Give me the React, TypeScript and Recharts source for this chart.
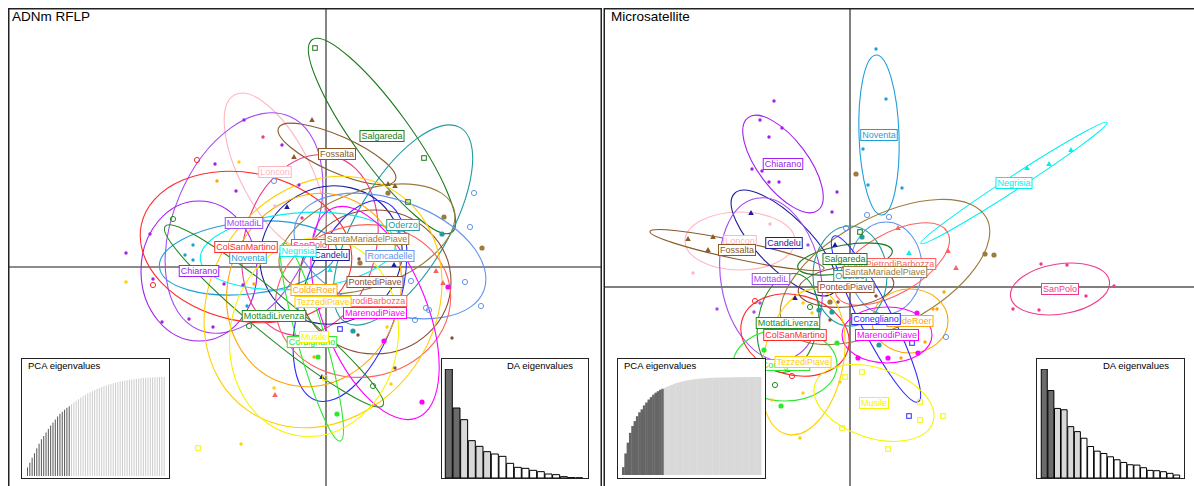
import React from 'react';
import { ScatterChart, Scatter, XAxis, YAxis, ReferenceLine, BarChart, Bar, Cell } from 'recharts';

const FONT = '"Liberation Sans", Arial, Helvetica, sans-serif';

type Mark = 'dot' | 'disc' | 'ring' | 'tri' | 'sq';
type Centroid = [string, number, number];
type Axes = [string, number, number, number]; // pop, semi-axis a, semi-axis b, tilt (deg)
type Point = [string, number, number];

// ---- ADNm RFLP: discriminant scores (LD1, LD2) ----
const rflpCentroids: Centroid[] = [
  ['Loncon', -5.1, 9.5],
  ['Salgareda', 5.6, 13.1],
  ['Fossalta', 1.1, 11.3],
  ['MottadiL', -8.2, 4.4],
  ['Oderzo', 7.7, 4.2],
  ['Chiarano', -12.7, -0.4],
  ['Noventa', -7.8, 0.9],
  ['ColSanMartino', -8.0, 2.0],
  ['SanPolo', -1.6, 2.2],
  ['Candelu', 0.5, 1.2],
  ['Negrisia', -2.8, 1.6],
  ['SantaMariadelPiave', 4.1, 2.8],
  ['Roncadelle', 6.4, 1.1],
  ['PontediPiave', 4.9, -1.5],
  ['Conegliano', 2.4, -3.4],
  ['SanPietrodiBarbozza', 3.7, -3.4],
  ['ColdeRoer', -1.2, -2.3],
  ['TezzediPiave', -0.3, -3.5],
  ['MarenodiPiave', 4.9, -4.6],
  ['MottadiLivenza', -5.2, -4.9],
  ['Cordignano', -1.4, -7.5],
  ['Musile', -1.2, -7.0],
];

const rflpEllipses: Axes[] = [
  ['Loncon', 8.7, 3.5, -62.5],
  ['Salgareda', 11.9, 2.8, -54],
  ['Fossalta', 6.4, 1.8, -24],
  ['MottadiL', 11.6, 7.0, 67],
  ['Oderzo', 11.3, 4.6, 59.5],
  ['Chiarano', 7.0, 5.8, 90],
  ['Noventa', 8.9, 3.6, 6],
  ['ColSanMartino', 10.7, 7.4, -12],
  ['SanPolo', 9.2, 6.6, 75],
  ['Candelu', 7.2, 6.8, 30],
  ['Negrisia', 9.8, 3.8, 5],
  ['SantaMariadelPiave', 9.2, 4.8, 20],
  ['Roncadelle', 10.0, 5.6, -20],
  ['PontediPiave', 7.6, 7.2, 0],
  ['Conegliano', 10.5, 4.8, 71],
  ['SanPietrodiBarbozza', 8.8, 7.6, 10],
  ['ColdeRoer', 9.8, 8.6, 70],
  ['TezzediPiave', 13.2, 11.2, 55],
  ['MarenodiPiave', 11.3, 5.2, -68],
  ['MottadiLivenza', 14.1, 2.0, -39.5],
  ['Cordignano', 10.3, 1.4, -74],
  ['Musile', 10.0, 8.4, 80],
];

const rflpPoints: Point[] = [
  ['Salgareda', -1.1, 21.9], ['Salgareda', 8.2, 6.5], ['Salgareda', 9.8, 10.9],
  ['Oderzo', 11.6, 3.3], ['Oderzo', 2.7, -6.4],
  ['Roncadelle', 14.8, 7.4], ['Roncadelle', 14.4, 4.0], ['Roncadelle', 13.9, -1.5], ['Roncadelle', 8.5, -1.4],
  ['Roncadelle', 10.0, -4.1], ['Roncadelle', 10.3, -4.3], ['Roncadelle', 8.9, -5.3], ['Roncadelle', 15.5, -3.9],
  ['Roncadelle', 7.3, 3.7], ['Roncadelle', -5.2, 8.6],
  ['Fossalta', -1.4, 14.7], ['Fossalta', 6.2, 8.3], ['Fossalta', 6.9, 8.1], ['Fossalta', -3.2, 11.0],
  ['Loncon', -5.1, 6.1],
  ['SanPolo', -6.3, 13.0], ['SanPolo', -2.4, 4.9],
  ['Chiarano', -8.2, 14.7], ['Chiarano', -4.4, 12.2], ['Chiarano', -11.1, 10.3], ['Chiarano', -9.0, 7.6],
  ['Chiarano', -17.6, 3.3], ['Chiarano', -20.0, 1.4], ['Chiarano', -17.3, -1.2], ['Chiarano', -16.4, -5.5],
  ['Chiarano', -13.7, -5.2], ['Chiarano', -11.3, -6.0], ['Chiarano', -8.3, -1.8], ['Chiarano', -10.2, -1.7],
  ['Chiarano', -2.7, 8.2],
  ['ColSanMartino', -12.9, 10.7], ['ColSanMartino', -17.3, -1.8],
  ['Noventa', -13.3, 2.2], ['Noventa', -14.1, 1.2], ['Noventa', -13.3, 0.7], ['Noventa', -7.9, -3.9],
  ['Negrisia', 0.4, -0.3],
  ['Candelu', -3.9, 6.0], ['Candelu', 6.8, 0.2], ['Candelu', -0.4, -11.0],
  ['ColdeRoer', -10.9, 8.6], ['ColdeRoer', -7.2, -1.7], ['ColdeRoer', -1.2, -9.0],
  ['TezzediPiave', -8.7, 10.5], ['TezzediPiave', -20.0, -1.5], ['TezzediPiave', -5.2, -12.1],
  ['TezzediPiave', -8.5, -17.7], ['TezzediPiave', 6.1, -6.0], ['TezzediPiave', 6.5, -11.7],
  ['Musile', -12.8, -18.1], ['Musile', -0.1, -11.1],
  ['SanPietrodiBarbozza', -5.1, -12.8], ['SanPietrodiBarbozza', 11.0, -0.4], ['SanPietrodiBarbozza', 11.7, -1.6],
  ['MarenodiPiave', 5.8, -7.4], ['MarenodiPiave', 9.6, -13.5], ['MarenodiPiave', 12.2, -2.0],
  ['PontediPiave', 3.3, 0.8], ['PontediPiave', 5.8, -1.9], ['PontediPiave', 12.6, -7.1],
  ['PontediPiave', 6.9, -10.1], ['PontediPiave', 3.2, -6.8],
  ['MottadiLivenza', -15.3, 4.8], ['MottadiLivenza', -7.7, -5.9], ['MottadiLivenza', 4.7, -11.9],
  ['Cordignano', -0.8, -9.0], ['Cordignano', 1.1, -14.7],
  ['SantaMariadelPiave', 3.4, 0.4], ['SantaMariadelPiave', 6.2, 7.4], ['SantaMariadelPiave', 11.8, 5.0],
  ['SantaMariadelPiave', 15.6, 1.9],
  ['Conegliano', 1.4, -6.2],
];

// ---- Microsatellite: discriminant scores (LD1, LD2) ----
const msatCentroids: Centroid[] = [
  ['Noventa', 2.9, 15.2],
  ['Chiarano', -6.7, 12.3],
  ['Negrisia', 16.4, 10.4],
  ['Loncon', -11.0, 4.6],
  ['Fossalta', -11.3, 3.7],
  ['Candelu', -6.6, 4.4],
  ['SanPolo', 21.0, -0.2],
  ['MottadiL', -7.9, 0.8],
  ['Roncadelle', 3.6, 1.9],
  ['Oderzo', 0.0, 1.1],
  ['SanPietrodiBarbozza', 4.2, 2.3],
  ['Salgareda', -0.5, 2.8],
  ['SantaMariadelPiave', 3.5, 1.5],
  ['PontediPiave', -0.4, 0.0],
  ['ColdeRoer', 6.0, -3.4],
  ['Conegliano', 2.6, -3.2],
  ['MarenodiPiave', 3.7, -4.8],
  ['MottadiLivenza', -6.2, -3.6],
  ['ColSanMartino', -5.5, -4.8],
  ['Cordignano', -6.5, -7.8],
  ['TezzediPiave', -4.7, -7.5],
  ['Musile', 2.4, -11.6],
];

const msatEllipses: Axes[] = [
  ['Noventa', 8.0, 2.0, 92],
  ['Chiarano', 5.8, 2.5, -53],
  ['Negrisia', 11.1, 0.7, 33],
  ['Loncon', 5.5, 2.9, 0],
  ['Fossalta', 8.9, 0.9, -12],
  ['Candelu', 7.0, 2.6, -45],
  ['SanPolo', 5.0, 2.5, 9],
  ['MottadiL', 8.2, 5.0, 100],
  ['Roncadelle', 4.6, 3.6, 90],
  ['Oderzo', 5.0, 3.7, 90],
  ['SanPietrodiBarbozza', 6.4, 3.0, 30],
  ['Salgareda', 4.8, 1.4, 10],
  ['SantaMariadelPiave', 11.5, 5.5, 28],
  ['PontediPiave', 4.8, 2.0, 5],
  ['ColdeRoer', 3.8, 3.2, 0],
  ['Conegliano', 9.3, 1.6, -63],
  ['MarenodiPiave', 4.5, 2.8, 0],
  ['MottadiLivenza', 5.0, 3.0, 80],
  ['ColSanMartino', 5.5, 4.0, -15],
  ['Cordignano', 5.2, 3.6, 0],
  ['TezzediPiave', 7.4, 4.0, 78],
  ['Musile', 6.2, 3.5, -18],
];

const msatPoints: Point[] = [
  ['Noventa', 2.6, 23.8], ['Noventa', 3.6, 18.8], ['Noventa', 1.3, 13.8], ['Noventa', 1.8, 10.2], ['Noventa', 5.2, 9.9],
  ['Chiarano', -7.6, 18.6], ['Chiarano', -9.0, 16.7], ['Chiarano', -6.8, 15.9], ['Chiarano', -8.1, 15.0],
  ['Chiarano', -9.8, 11.8], ['Chiarano', -8.8, 11.6], ['Chiarano', -8.1, 10.5], ['Chiarano', -7.1, 10.5],
  ['Chiarano', -1.3, 9.5], ['Chiarano', -1.8, 7.5],
  ['Negrisia', 17.7, 11.9], ['Negrisia', 19.9, 12.3], ['Negrisia', 22.1, 13.7], ['Negrisia', 5.9, 3.4],
  ['SanPolo', 19.1, 2.3], ['SanPolo', 21.7, 2.2], ['SanPolo', 26.4, 0.1], ['SanPolo', 23.6, -0.9],
  ['SanPolo', 16.3, -2.2], ['SanPolo', 18.9, -2.3],
  ['Fossalta', -16.2, 4.8], ['Fossalta', -13.7, 5.0], ['Fossalta', -14.2, 3.7],
  ['Loncon', -8.0, 6.3], ['Loncon', -15.7, 1.4],
  ['Candelu', -9.9, 7.4], ['Candelu', -1.5, 4.2], ['Candelu', -5.5, -1.1],
  ['Musile', -0.5, -9.0], ['Musile', 1.2, -8.5], ['Musile', -0.8, -14.1], ['Musile', 3.8, -16.2],
  ['Musile', 7.0, -11.5], ['Musile', 7.0, -13.3], ['Musile', 9.3, -12.9],
  ['Conegliano', 6.2, -5.6], ['Conegliano', 5.9, -12.9], ['Conegliano', 4.7, -3.1],
  ['Roncadelle', 1.7, 7.2], ['Roncadelle', 3.9, 7.0], ['Roncadelle', -0.4, 5.9], ['Roncadelle', 9.6, -5.0],
  ['Roncadelle', 2.3, 2.5],
  ['ColdeRoer', 9.4, -0.5], ['ColdeRoer', 8.3, -2.2], ['ColdeRoer', 8.7, -2.2], ['ColdeRoer', 7.5, -5.5],
  ['ColdeRoer', 5.1, -7.1],
  ['MarenodiPiave', 6.7, -2.6], ['MarenodiPiave', 6.8, -6.6], ['MarenodiPiave', 0.8, -7.1], ['MarenodiPiave', 3.8, -7.1],
  ['Oderzo', 1.2, 5.0], ['Oderzo', -1.8, -2.5], ['Oderzo', -3.1, -2.3], ['Oderzo', 2.9, -5.8],
  ['SantaMariadelPiave', 0.6, 11.3], ['SantaMariadelPiave', 13.5, 3.3], ['SantaMariadelPiave', 14.4, 3.2],
  ['SantaMariadelPiave', -2.0, -1.5], ['SantaMariadelPiave', 1.6, -3.5],
  ['SanPietrodiBarbozza', 9.8, 3.6], ['SanPietrodiBarbozza', 10.6, 1.9], ['SanPietrodiBarbozza', 4.8, 5.9],
  ['ColSanMartino', -9.5, -1.4], ['ColSanMartino', -5.8, -8.9],
  ['MottadiLivenza', -7.5, -9.8], ['MottadiLivenza', -4.0, -2.0],
  ['Cordignano', -10.9, -7.6], ['Cordignano', -6.9, -11.9], ['Cordignano', -1.3, -5.6], ['Cordignano', -8.6, -6.3],
  ['TezzediPiave', -4.7, -1.6], ['TezzediPiave', -4.7, -10.6], ['TezzediPiave', -5.0, -15.1],
  ['TezzediPiave', -7.8, -11.3], ['TezzediPiave', -1.0, -9.5], ['TezzediPiave', -3.8, -2.6],
  ['PontediPiave', -1.2, -1.5], ['PontediPiave', -2.0, -3.3], ['PontediPiave', 2.6, -0.9],
  ['MottadiL', -9.0, -1.6], ['MottadiL', -9.6, -2.5], ['MottadiL', -13.3, -2.2], ['MottadiL', -4.2, 4.2],
  ['Salgareda', 1.0, 5.5],
];

// cumulative variance (%) of the retained PCA axes
const rflpPcaCum = [
  8.5, 13.5, 18.5, 23, 28, 32.5, 37, 40.5, 44, 47.5, 51, 54, 57, 60, 63, 65, 67, 69, 70.5, 72.5,
  74.3, 76, 77.6, 79.2, 80.7, 82, 83.3, 84.5, 85.7, 86.8, 87.9, 88.9, 89.8, 90.7, 91.5, 92.3, 93, 93.7, 94.3, 94.9,
  95.4, 95.9, 96.4, 96.8, 97.2, 97.5, 97.8, 98.1, 98.4, 98.7, 98.9, 99.1, 99.3, 99.5, 99.6, 99.7, 99.8, 99.9, 100, 100,
];
const rflpPcaKept = 19;

const msatPcaCum = [
  8, 22, 33, 43, 50, 55, 60, 64, 67, 71, 74, 77, 79.5, 82, 84, 85.5, 87, 88, 89, 90,
  91, 92, 93, 93.8, 94.5, 95.1, 95.7, 96.2, 96.7, 97.1, 97.4, 97.7, 98, 98.2, 98.4, 98.6, 98.8, 98.95, 99.1, 99.2,
  99.3, 99.35, 99.4, 99.45, 99.5, 99.55, 99.6, 99.65, 99.7, 99.75, 99.8, 99.85, 99.88, 99.9, 99.92, 99.94, 99.96, 99.98, 99.99, 100,
];
const msatPcaKept = 18;

// discriminant eigenvalues
const rflpDaEig = [32.7, 21.0, 17.5, 11.2, 9.5, 7.9, 7.2, 6.5, 4.4, 3.2, 2.9, 2.3, 1.9, 1.2, 1.0, 0.4, 0.1, 0.05];
const msatDaEig = [32.9, 26.4, 21.0, 20.6, 15.5, 14.0, 12.0, 9.5, 8.1, 7.4, 6.4, 5.5, 4.7, 4.0, 3.9, 3.1, 2.3, 2.2, 1.9, 1.4, 0.9];
const daShown = 2;
const daKept = 6;

const popColour: Record<string, string> = {
  Salgareda: '#1b7a1b',
  Fossalta: '#8b5a2b',
  Loncon: '#ffb6c1',
  MottadiL: '#a24cf5',
  Oderzo: '#1f9e9e',
  SantaMariadelPiave: '#9c7b3c',
  ColSanMartino: '#ff2a2a',
  SanPolo: '#ee3a8c',
  Negrisia: '#00f0f0',
  Candelu: '#1c1c9c',
  Noventa: '#1e9fda',
  Roncadelle: '#6495ed',
  Chiarano: '#a020f0',
  PontediPiave: '#8b4c39',
  ColdeRoer: '#ffa500',
  TezzediPiave: '#ffd000',
  SanPietrodiBarbozza: '#ff6060',
  MarenodiPiave: '#ff00ff',
  MottadiLivenza: '#228b22',
  Musile: '#f5f500',
  Cordignano: '#2ee82e',
  Conegliano: '#2a2aff',
};

const popMark: Record<string, Mark> = {
  Noventa: 'dot', Chiarano: 'dot', SanPolo: 'dot', ColdeRoer: 'dot', TezzediPiave: 'dot',
  PontediPiave: 'dot', Loncon: 'dot', MottadiL: 'dot',
  Negrisia: 'tri', Fossalta: 'tri', Candelu: 'tri', SanPietrodiBarbozza: 'tri',
  Musile: 'sq', Conegliano: 'sq', Salgareda: 'sq',
  Roncadelle: 'ring', ColSanMartino: 'ring', MottadiLivenza: 'ring',
  MarenodiPiave: 'disc', Oderzo: 'disc', SantaMariadelPiave: 'disc', Cordignano: 'disc',
};

let measureCtx: CanvasRenderingContext2D | null = null;
function textWidth(s: string, size: number) {
  if (!measureCtx) measureCtx = document.createElement('canvas').getContext('2d');
  if (!measureCtx) return s.length * size * 0.52;
  measureCtx.font = `${size}px "Liberation Sans", Arial, sans-serif`;
  return measureCtx.measureText(s).width;
}

function drawMark(p: any) {
  const { cx, cy, payload } = p;
  const c = popColour[payload.pop];
  switch (popMark[payload.pop]) {
    case 'disc':
      return <circle cx={cx} cy={cy} r={2.6} fill={c} />;
    case 'ring':
      return <circle cx={cx} cy={cy} r={2.6} fill="none" stroke={c} strokeWidth={1} />;
    case 'tri':
      return <polygon points={`${cx},${cy - 3} ${cx + 2.8},${cy + 2} ${cx - 2.8},${cy + 2}`} fill={c} />;
    case 'sq':
      return <rect x={cx - 2.3} y={cy - 2.3} width={4.6} height={4.6} fill="none" stroke={c} strokeWidth={1} />;
    default:
      return <circle cx={cx} cy={cy} r={1.7} fill={c} />;
  }
}

function drawLabel(p: any) {
  const { cx, cy, payload } = p;
  const c = popColour[payload.pop];
  const w = textWidth(payload.pop, 9) + 3;
  return (
    <g>
      <rect x={cx - w / 2} y={cy - 5.5} width={w} height={11} fill="#fff" stroke={c} strokeWidth={1} />
      <text x={cx} y={cy + 3.3} textAnchor="middle" fontSize={9} fontFamily={FONT} fill={c}>
        {payload.pop}
      </text>
    </g>
  );
}

interface PanelProps {
  left: number;
  top: number;
  width: number;
  height: number;
  xDomain: [number, number];
  yDomain: [number, number];
  axisColour: string;
  axisWidth: number;
  centroids: Centroid[];
  ellipses: Axes[];
  points: Point[];
}

function DapcPanel({ left, top, width, height, xDomain, yDomain, axisColour, axisWidth, centroids, ellipses, points }: PanelProps) {
  const kx = width / (xDomain[1] - xDomain[0]);
  const ky = height / (yDomain[1] - yDomain[0]);
  const centre: Record<string, [number, number]> = {};
  centroids.forEach(([pop, x, y]) => { centre[pop] = [x, y]; });

  const ellipseRows = ellipses.map(([pop, a, b, tilt]) => ({ pop, x: centre[pop][0], y: centre[pop][1], a, b, tilt }));
  const pointRows = points.map(([pop, x, y]) => ({ pop, x, y }));
  const labelRows = centroids.map(([pop, x, y]) => ({ pop, x, y }));

  const drawEllipse = (p: any) => {
    const { cx, cy, payload } = p;
    return (
      <ellipse
        cx={0}
        cy={0}
        rx={payload.a}
        ry={payload.b}
        transform={`translate(${cx},${cy}) scale(${kx},${-ky}) rotate(${payload.tilt})`}
        fill="none"
        stroke={popColour[payload.pop]}
        strokeWidth={1.1}
        vectorEffect="non-scaling-stroke"
      />
    );
  };

  return (
    <div style={{ position: 'absolute', left, top, width, height }}>
      <ScatterChart width={width} height={height} margin={{ top: 0, right: 0, bottom: 0, left: 0 }}>
        <XAxis type="number" dataKey="x" domain={xDomain} allowDataOverflow hide />
        <YAxis type="number" dataKey="y" domain={yDomain} allowDataOverflow hide />
        <ReferenceLine x={0} stroke={axisColour} strokeWidth={axisWidth} />
        <ReferenceLine y={0} stroke={axisColour} strokeWidth={axisWidth} />
        <Scatter data={ellipseRows} shape={drawEllipse} isAnimationActive={false} />
        <Scatter data={pointRows} shape={drawMark} isAnimationActive={false} />
        <Scatter data={labelRows} shape={drawLabel} isAnimationActive={false} />
      </ScatterChart>
    </div>
  );
}

interface InsetProps {
  left: number;
  top: number;
  width: number;
  height: number;
  margin: { top: number; right: number; bottom: number; left: number };
  values: number[];
  fills: string[];
  max: number;
  gap: number | string;
  barSize?: number;
  outline?: string;
  solid?: boolean; // bars butt against each other with no gap
}

function EigenInset({ left, top, width, height, margin, values, fills, max, gap, barSize, outline, solid }: InsetProps) {
  const data = values.map((v, i) => ({ k: i + 1, v }));
  const step = (width - margin.left - margin.right) / values.length;
  // recharts floors bar widths to whole pixels, so solid bars are widened to the full step
  const solidBar = (p: any) => (
    <rect x={p.x} y={p.y} width={step + 0.4} height={p.height} fill={fills[p.index]} />
  );
  return (
    <div style={{ position: 'absolute', left, top, width, height, background: '#fff' }}>
      <BarChart width={width} height={height} data={data} margin={margin} barCategoryGap={gap} barGap={0} barSize={barSize}>
        <XAxis dataKey="k" hide />
        <YAxis type="number" domain={[0, max]} allowDataOverflow hide />
        {solid ? (
          <Bar dataKey="v" isAnimationActive={false} shape={solidBar} />
        ) : (
          <Bar dataKey="v" isAnimationActive={false} stroke={outline ?? 'none'} strokeWidth={outline ? 1 : 0}>
            {data.map((d, i) => <Cell key={d.k} fill={fills[i]} />)}
          </Bar>
        )}
      </BarChart>
    </div>
  );
}

const pcaFills = (n: number, kept: number, dark: string, light: string) =>
  Array.from({ length: n }, (_, i) => (i < kept ? dark : light));
const daFills = (n: number) =>
  Array.from({ length: n }, (_, i) => (i < daShown ? '#6b6b6b' : i < daKept ? '#d9d9d9' : '#ffffff'));

export default function App() {
  return (
    <div style={{ position: 'fixed', left: 0, top: 0, width: 1194, height: 486, overflow: 'hidden', background: '#fff', fontFamily: FONT }}>
      <DapcPanel
        left={9}
        top={9}
        width={592}
        height={500}
        xDomain={[-31.7, 27.5]}
        yDomain={[-24.2, 25.8]}
        axisColour="#666"
        axisWidth={1.6}
        centroids={rflpCentroids}
        ellipses={rflpEllipses}
        points={rflpPoints}
      />
      <DapcPanel
        left={604}
        top={9}
        width={596}
        height={500}
        xDomain={[-24.6, 35.0]}
        yDomain={[-22.2, 27.8]}
        axisColour="#000"
        axisWidth={1}
        centroids={msatCentroids}
        ellipses={msatEllipses}
        points={msatPoints}
      />

      <EigenInset
        left={21} top={358} width={149} height={121}
        margin={{ top: 19, right: 5, bottom: 3, left: 5 }}
        values={rflpPcaCum}
        fills={pcaFills(rflpPcaCum.length, rflpPcaKept, '#555555', '#cccccc')}
        max={100} gap="0%" barSize={1}
      />
      <EigenInset
        left={441} top={358} width={148} height={121}
        margin={{ top: 11, right: 6, bottom: 1, left: 4 }}
        values={rflpDaEig}
        fills={daFills(rflpDaEig.length)}
        max={Math.max(...rflpDaEig)} gap="4%" outline="#000"
      />
      <EigenInset
        left={617} top={358} width={149} height={121}
        margin={{ top: 19, right: 5, bottom: 4, left: 5 }}
        values={msatPcaCum}
        fills={pcaFills(msatPcaCum.length, msatPcaKept, '#666666', '#d9d9d9')}
        max={100} gap="0%" solid
      />
      <EigenInset
        left={1036} top={358} width={149} height={121}
        margin={{ top: 11, right: 5, bottom: 1, left: 5 }}
        values={msatDaEig}
        fills={daFills(msatDaEig.length)}
        max={Math.max(...msatDaEig)} gap="4%" outline="#000"
      />

      <svg width={1194} height={486} style={{ position: 'absolute', left: 0, top: 0, pointerEvents: 'none' }}>
        <path d="M8.75,520 V8.75 H601.25 V520" fill="none" stroke="#222" strokeWidth={1.5} />
        <path d="M604.25,520 V8.75 H1200" fill="none" stroke="#222" strokeWidth={1.5} />
        <text x={12} y={21} fontSize={13.5} fontFamily={FONT} fill="#000">ADNm RFLP</text>
        <text x={611} y={21} fontSize={13.5} fontFamily={FONT} fill="#000">Microsatellite</text>

        <rect x={21.5} y={358.5} width={148} height={120} fill="none" stroke="#222" strokeWidth={1} />
        <rect x={441.5} y={358.5} width={147} height={120} fill="none" stroke="#222" strokeWidth={1} />
        <rect x={617.5} y={358.5} width={148} height={120} fill="none" stroke="#222" strokeWidth={1} />
        <rect x={1036.5} y={358.5} width={148} height={120} fill="none" stroke="#222" strokeWidth={1} />
        <text x={28} y={369} fontSize={9.5} fontFamily={FONT} fill="#000">PCA eigenvalues</text>
        <text x={507} y={369} fontSize={9.5} fontFamily={FONT} fill="#000">DA eigenvalues</text>
        <text x={624} y={369} fontSize={9.5} fontFamily={FONT} fill="#000">PCA eigenvalues</text>
        <text x={1103} y={369} fontSize={9.5} fontFamily={FONT} fill="#000">DA eigenvalues</text>
      </svg>
    </div>
  );
}
